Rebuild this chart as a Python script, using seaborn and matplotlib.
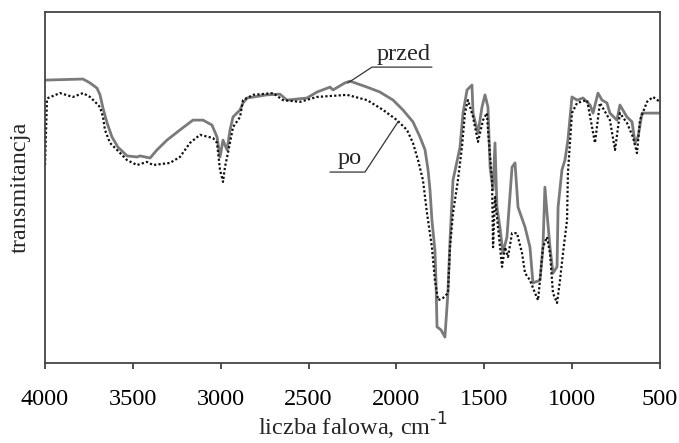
import matplotlib
matplotlib.use("Agg")
import matplotlib.pyplot as plt
import seaborn as sns
import pandas as pd

# "przed" spectrum (wavenumber, transmittance %)
przed_wn = [4000, 3784, 3744, 3704, 3687, 3670, 3647, 3619, 3585, 3533, 3476, 3459, 3402, 3363,
            3306, 3232, 3158, 3101, 3050, 3021, 3004, 2987, 2964, 2947, 2930, 2890, 2873, 2850,
            2737, 2663, 2623, 2509, 2452, 2378, 2361, 2293, 2264, 2167, 2094, 2019, 1963, 1906,
            1866, 1837, 1820, 1809, 1798, 1781, 1775, 1769, 1746, 1724, 1707, 1695, 1678, 1638,
            1621, 1598, 1570, 1564, 1536, 1513, 1496, 1479, 1467, 1450, 1439, 1428, 1411, 1394,
            1371, 1342, 1325, 1308, 1268, 1240, 1223, 1183, 1166, 1155, 1143, 1126, 1109, 1086,
            1080, 1058, 1041, 1024, 1001, 972, 938, 898, 881, 853, 830, 802, 785, 745, 728, 688,
            659, 642, 625, 602, 500]
przed_t = [80.6, 80.9, 79.8, 78.3, 76.4, 72.6, 68.4, 64.4, 61.5, 59.0, 58.7, 59.0, 58.4, 60.7,
           63.5, 66.4, 69.2, 69.2, 67.8, 64.4, 58.7, 63.5, 60.7, 66.4, 70.1, 72.1, 74.1, 75.5,
           76.4, 76.6, 74.9, 75.5, 77.2, 78.6, 77.8, 79.8, 80.3, 78.6, 77.2, 74.9, 72.1, 68.7,
           64.4, 60.7, 55.0, 49.3, 40.7, 32.2, 23.6, 10.3, 9.4, 7.4, 19.9, 35.0, 52.1, 61.5,
           71.2, 77.8, 79.2, 71.2, 65.5, 72.9, 76.4, 72.9, 55.8, 49.3, 62.7, 44.4, 38.7, 31.3,
           35.9, 55.8, 57.0, 44.4, 38.7, 33.0, 22.8, 23.6, 33.0, 50.1, 42.7, 33.0, 25.6, 27.4,
           44.4, 55.0, 57.8, 63.5, 75.8, 74.9, 75.5, 73.5, 71.2, 76.9, 74.9, 74.1, 71.2, 69.2,
           73.5, 70.1, 68.7, 62.7, 64.4, 71.2, 71.2]

# "po" spectrum
po_wn = [4000, 3989, 3983, 3915, 3841, 3784, 3744, 3715, 3687, 3670, 3659, 3630, 3590, 3533,
         3476, 3420, 3385, 3289, 3232, 3175, 3118, 3044, 3021, 3004, 2987, 2976, 2959, 2930,
         2890, 2873, 2816, 2702, 2646, 2549, 2452, 2281, 2167, 2076, 1997, 1940, 1906, 1877,
         1849, 1826, 1798, 1781, 1763, 1735, 1707, 1695, 1678, 1650, 1627, 1610, 1593, 1564,
         1536, 1507, 1485, 1479, 1456, 1450, 1439, 1422, 1399, 1382, 1365, 1342, 1314, 1285,
         1268, 1240, 1211, 1194, 1183, 1166, 1143, 1126, 1109, 1086, 1069, 1052, 1029, 1024,
         1001, 972, 915, 870, 842, 785, 756, 728, 688, 654, 631, 614, 574, 540, 500]
po_t = [56.4, 74.9, 75.5, 76.9, 75.8, 76.9, 75.8, 74.4, 72.9, 70.1, 66.4, 62.7, 60.7, 57.8,
        56.4, 57.3, 56.4, 57.0, 58.7, 62.7, 65.0, 64.1, 62.7, 55.0, 51.6, 55.8, 59.8, 67.2,
        70.1, 74.9, 76.4, 76.9, 74.9, 74.4, 75.8, 76.4, 74.9, 72.1, 69.2, 66.4, 62.7, 57.8,
        52.1, 42.7, 33.0, 23.6, 17.9, 18.5, 19.9, 33.0, 42.7, 52.1, 61.5, 71.2, 74.9, 70.1,
        63.0, 69.2, 71.2, 66.4, 52.1, 33.0, 47.3, 38.7, 27.4, 33.0, 30.2, 37.0, 37.0, 31.3,
        25.6, 23.6, 19.9, 17.9, 23.6, 33.0, 35.9, 31.3, 19.9, 17.1, 23.6, 31.3, 40.7, 54.1,
        71.2, 74.1, 74.9, 62.7, 74.1, 69.2, 60.7, 71.2, 68.4, 64.4, 59.8, 69.2, 74.4, 75.8, 74.4]

x_ticks = [4000, 3500, 3000, 2500, 2000, 1500, 1000, 500]

sns.set_theme(style="white")
plt.rcParams['font.family'] = ['Liberation Serif', 'DejaVu Serif']

fig = plt.figure(figsize=(6.79, 4.43), dpi=100)
ax = fig.add_axes([0.0663, 0.1806, 0.9057, 0.7923])

df_przed = pd.DataFrame({"wn": przed_wn, "t": przed_t})
df_po = pd.DataFrame({"wn": po_wn, "t": po_t})

sns.lineplot(data=df_przed, x="wn", y="t", ax=ax, sort=False, estimator=None,
             color="#7a7a7a", linewidth=2.0)
sns.lineplot(data=df_po, x="wn", y="t", ax=ax, sort=False, estimator=None,
             color="#111111", linewidth=1.6, linestyle=(0, (1, 1)))

ax.set_xlim(4000, 500)
ax.set_ylim(0, 100)
ax.set_xticks(x_ticks)
ax.set_xticklabels([str(v) for v in x_ticks])
ax.set_yticks([])
ax.tick_params(axis="x", direction="out", length=4.5, width=1.2, colors="#333333",
               labelsize=17.5, pad=14.5, bottom=True)
for lab in ax.get_xticklabels():
    lab.set_color("black")
for sp in ax.spines.values():
    sp.set_visible(True)
    sp.set_color("#444444")
    sp.set_linewidth(1.3)

ax.set_xlabel("liczba falowa, cm$^{\\text{-1}}$", fontsize=17.5, labelpad=0)
ax.set_ylabel("transmitancja", fontsize=17.5, labelpad=10)

# annotations with leader lines
ax.plot([2276, 2139, 1798], [79.8, 84.3, 84.3], color="#333333", linewidth=0.9)
ax.text(1957, 85.0, "przed", fontsize=17.5, ha="center", va="bottom")
ax.plot([2378, 2179, 1991], [54.4, 54.4, 68.7], color="#333333", linewidth=0.9)
ax.text(2264, 55.2, "po", fontsize=17.5, ha="center", va="bottom")

fig.savefig("out.png", dpi=100)
